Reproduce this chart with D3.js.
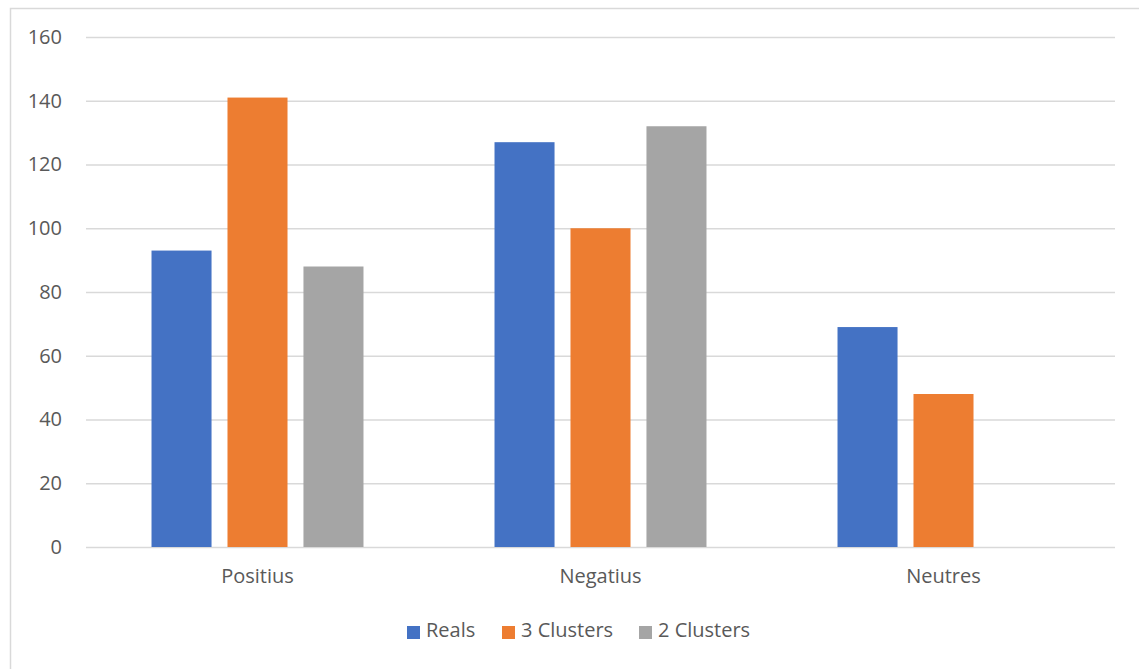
<!DOCTYPE html>
<html>
<head>
<meta charset="utf-8">
<script src="https://cdn.jsdelivr.net/npm/d3@7"></script>
<style>
  html, body { margin: 0; padding: 0; background: #fff; }
  svg { display: block; }
  text { font-family: "Open Sans", "Noto Sans", sans-serif; fill: #595959; }
</style>
</head>
<body>
<svg id="chart" width="1139" height="669"></svg>
<script>
// Sentiment counts per category, for each labelling
const categories = ["Positius", "Negatius", "Neutres"];
const seriesNames = ["Reals", "3 Clusters", "2 Clusters"];
const reals = [93, 127, 69];
const clusters3 = [141, 100, 48];
const clusters2 = [88, 132, 0];
const yTicks = [0, 20, 40, 60, 80, 100, 120, 140, 160];
const colors = ["#4472c4", "#ed7d31", "#a5a5a5"];

const seriesValues = [reals, clusters3, clusters2];
const rows = categories.map((c, i) => ({
  category: c,
  values: seriesNames.map((s, j) => ({ series: s, value: seriesValues[j][i], color: colors[j] }))
}));

const FONT = 20;
const svg = d3.select("#chart");
const margin = { left: 86, right: 24, top: 37, bottom: 122 };
const W = 1139, H = 669;

// Outer frame (left and top edges visible)
svg.append("rect")
  .attr("x", 10.5).attr("y", 8.5)
  .attr("width", 1160).attr("height", 700)
  .attr("fill", "none").attr("stroke", "#d9d9d9").attr("stroke-width", 1.5);

const x0 = d3.scaleBand()
  .domain(categories)
  .range([margin.left, W - margin.right])
  .paddingInner(0.382)
  .paddingOuter(0.191);

const x1 = d3.scaleBand()
  .domain(seriesNames)
  .range([0, x0.bandwidth()])
  .paddingInner(0.21)
  .paddingOuter(0);

const y = d3.scaleLinear()
  .domain([0, 160])
  .range([H - margin.bottom, margin.top]);

// Horizontal gridlines and value labels
const yAxis = d3.axisLeft(y)
  .tickValues(yTicks)
  .tickSize(-(W - margin.left - margin.right))
  .tickPadding(24)
  .tickFormat(d3.format("d"));

const gy = svg.append("g")
  .attr("transform", `translate(${margin.left},0)`)
  .call(yAxis);
gy.select(".domain").remove();
gy.selectAll(".tick line").attr("stroke", "#d9d9d9").attr("stroke-width", 1.3);
gy.selectAll(".tick text")
  .attr("font-size", FONT)
  .style("font-family", "'Open Sans', 'Noto Sans', sans-serif")
  .attr("fill", "#595959");

// Bars
const groups = svg.append("g").selectAll("g")
  .data(rows)
  .join("g")
  .attr("transform", d => `translate(${x0(d.category)},0)`);

groups.selectAll("rect")
  .data(d => d.values.filter(v => v.value > 0))
  .join("rect")
  .attr("x", d => x1(d.series))
  .attr("y", d => y(d.value))
  .attr("width", x1.bandwidth())
  .attr("height", d => y(0) - y(d.value))
  .attr("fill", d => d.color);

// Category labels
const xAxis = d3.axisBottom(x0).tickSize(0).tickPadding(22);
const gx = svg.append("g")
  .attr("transform", `translate(0,${y(0)})`)
  .call(xAxis);
gx.select(".domain").remove();
gx.selectAll(".tick text")
  .attr("font-size", FONT)
  .style("font-family", "'Open Sans', 'Noto Sans', sans-serif")
  .attr("fill", "#595959");

// Legend
const legendItems = [
  { name: seriesNames[0], x: 407 },
  { name: seriesNames[1], x: 502 },
  { name: seriesNames[2], x: 639 }
];
const legend = svg.append("g").attr("transform", "translate(0,630)");
legendItems.forEach((item, i) => {
  const g = legend.append("g").attr("transform", `translate(${item.x},0)`);
  g.append("rect")
    .attr("x", 0).attr("y", -4)
    .attr("width", 13).attr("height", 13)
    .attr("fill", colors[i]);
  g.append("text")
    .attr("x", 19).attr("y", 0)
    .attr("dy", "0.35em")
    .attr("font-size", FONT)
    .text(item.name);
});
</script>
</body>
</html>
